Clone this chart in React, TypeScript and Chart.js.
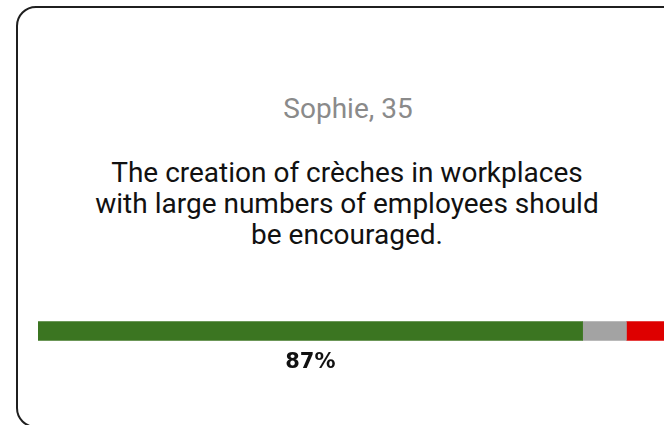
import React, { useEffect, useRef } from "react";
import { Chart, registerables } from "chart.js";

Chart.register(...registerables);

const categories = [""];
const seriesNames = ["Agree", "Neutral", "Disagree"];
const seriesValues = [87, 7, 6];
const seriesColors = ["#3b7521", "#a3a3a3", "#de0000"];
const valueLabels = ["87%"];
const personLabel = "Sophie, 35";
const statementLines = [
  "The creation of crèches in workplaces",
  "with large numbers of employees should",
  "be encouraged.",
];

const labelPlugin = {
  id: "greenLabel",
  afterDatasetsDraw(chart: any) {
    const meta = chart.getDatasetMeta(0);
    const bar = meta.data[0];
    if (!bar) return;
    const { ctx } = chart;
    const props = bar.getProps(["x", "base", "y"], true);
    const cx = (props.x + props.base) / 2;
    ctx.save();
    ctx.font = "bold 21px 'DejaVu Sans'";
    ctx.fillStyle = "#111";
    ctx.textAlign = "center";
    ctx.textBaseline = "alphabetic";
    ctx.fillText(valueLabels[0], cx, props.y + 37);
    ctx.restore();
  },
};

export default function App() {
  const ref = useRef<HTMLCanvasElement | null>(null);

  useEffect(() => {
    if (!ref.current) return;
    const chart = new Chart(ref.current, {
      type: "bar",
      data: {
        labels: categories,
        datasets: seriesNames.map((n, i) => ({
          label: n,
          data: [seriesValues[i]],
          backgroundColor: seriesColors[i],
          borderWidth: 0,
          barThickness: 19,
        })),
      },
      options: {
        indexAxis: "y",
        animation: false,
        responsive: true,
        maintainAspectRatio: false,
        layout: { padding: { top: 0, bottom: 40, left: 0, right: 0 } },
        plugins: { legend: { display: false }, tooltip: { enabled: false } },
        scales: {
          x: { stacked: true, min: 0, max: 100, display: false },
          y: { stacked: true, display: false },
        },
      },
      plugins: [labelPlugin],
    } as any);
    return () => chart.destroy();
  }, []);

  return (
    <div
      style={{
        position: "fixed",
        left: 0,
        top: 0,
        width: 664,
        height: 425,
        overflow: "hidden",
        background: "#fff",
        fontFamily: "Roboto, sans-serif",
      }}
    >
      <div
        style={{
          position: "absolute",
          left: 16,
          top: 6,
          width: 690,
          height: 422,
          border: "2px solid #1f1f1f",
          borderRadius: 20,
          boxSizing: "border-box",
        }}
      />
      <div
        style={{
          position: "absolute",
          left: 0,
          width: 696,
          top: 95,
          textAlign: "center",
          fontSize: 28,
          color: "#8a8a8a",
          lineHeight: "28px",
          whiteSpace: "nowrap",
        }}
      >
        {personLabel}
      </div>
      <div
        style={{
          position: "absolute",
          left: 0,
          width: 694,
          top: 157,
          textAlign: "center",
          fontSize: 28,
          color: "#111",
          lineHeight: "31px",
          whiteSpace: "nowrap",
        }}
      >
        {statementLines.map((l, i) => (
          <div key={i}>{l}</div>
        ))}
      </div>
      <div
        style={{
          position: "absolute",
          left: 38,
          top: 311,
          width: 626,
          height: 80,
        }}
      >
        <canvas ref={ref} />
      </div>
    </div>
  );
}
